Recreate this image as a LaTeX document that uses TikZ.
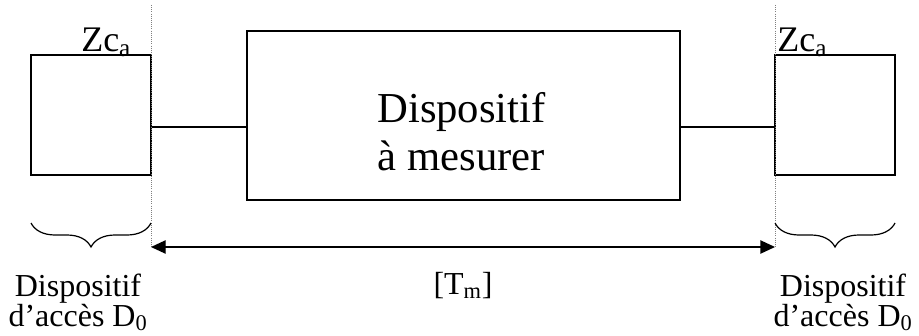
\documentclass[tikz,border=0pt]{standalone}
\usepackage{fontspec}
\setmainfont{Liberation Serif}
\usepackage{tikz}
\usetikzlibrary{arrows.meta,positioning,calc,decorations.pathreplacing}

\begin{document}
\begin{tikzpicture}[
  x=0.75pt, y=-0.75pt,
  box/.style={rectangle, draw, line width=1pt, minimum width=90pt, minimum height=90pt, inner sep=0pt},
  dut/.style={rectangle, draw, line width=1pt, minimum width=324.75pt, minimum height=126.75pt, inner sep=0pt},
  lbl/.style={font=\fontsize{24}{22.5}\selectfont, align=center, inner sep=0pt},
  zlbl/.style={font=\fontsize{27}{28}\selectfont, inner sep=0pt, anchor=base west},
  guide/.style={densely dotted, gray, line width=0.6pt},
  arr/.style={{Triangle[length=11pt,width=10pt]}-{Triangle[length=11pt,width=10pt]}, line width=1pt},
  brc/.style={decorate, decoration={brace, mirror, amplitude=18pt}, line width=0.9pt}
]
\useasboundingbox (0,0) rectangle (919,335);

% Boxes
\node[box] (accL) at (91,115) {};
\node[dut] (dut) at (463.5,115.5) {};
\node[box] (accR) at (835,115) {};
\node[font=\fontsize{32}{36}\selectfont, align=center, inner sep=0pt, anchor=base] (dutlbl) at (461.5,170) {Dispositif\\à mesurer};

% Lines
\coordinate (jL) at ([yshift=-9pt]accL.east);
\coordinate (jR) at ([yshift=-9pt]accR.west);
\draw[line width=1pt] (jL) -- (jL -| dut.west);
\draw[line width=1pt] (jR) -- (jR -| dut.east);

% Reference planes
\coordinate (gLt) at (151,5);
\coordinate (gLb) at (151,248);
\coordinate (gRt) at (775,5);
\coordinate (gRb) at (775,248);
\draw[guide] (gLt) -- (gLb);
\draw[guide] (gRt) -- (gRb);

\node[zlbl] (zL) at (81,52) {Zc\textsubscript{a}};
\node[zlbl] (zR) at (777,52) {Zc\textsubscript{a}};

% Measured part
\coordinate (aL) at (151,247);
\coordinate (aR) at (775,247);
\draw[arr] (aL) -- (aR);
\node[lbl, anchor=base] (tm) at (463,294) {[T\textsubscript{m}]};

% Access devices
\coordinate (bL1) at (31,223);
\coordinate (bL2) at (151,223);
\coordinate (bR1) at (775,223);
\coordinate (bR2) at (895,223);
\draw[brc] (bL1) -- (bL2);
\draw[brc] (bR1) -- (bR2);
\node[lbl, anchor=base] (dL) at (78,326) {Dispositif\\d’accès D\textsubscript{0}};
\node[lbl, anchor=base] (dR) at (843,326) {Dispositif\\d’accès D\textsubscript{0}};

\end{tikzpicture}
\end{document}
